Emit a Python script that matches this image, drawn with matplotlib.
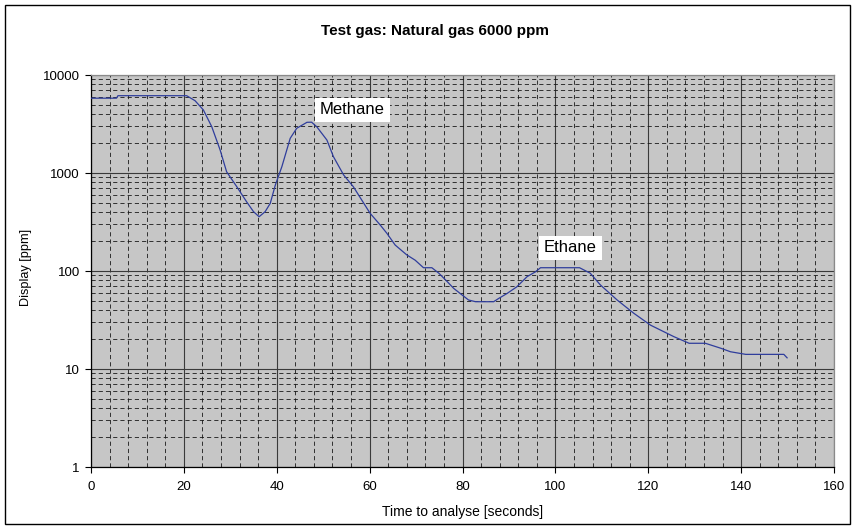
import numpy as np
import matplotlib
matplotlib.use("Agg")
import matplotlib.pyplot as plt
from matplotlib.patches import Rectangle
from matplotlib.ticker import MultipleLocator, LogLocator, NullFormatter

# ---------------- data ----------------
time_s = [0, 5.5, 5.8, 20.6, 22.4, 24.2, 26, 27.8, 29.2, 31.4, 33.5, 35, 36.2,
          37.5, 38.6, 39.7, 41.1, 42.9, 44.3, 46.5, 47.5, 48.6, 50.8, 52.2,
          54.4, 56.5, 60.1, 62.3, 63.7, 65.5, 68, 69.8, 71.6, 73.4, 74.9,
          76.7, 78.1, 79.9, 81.3, 82.8, 86.7, 87.8, 89.6, 91.7, 93.9, 95.7,
          96.8, 105.2, 107.5, 109.7, 113.3, 116.9, 120.5, 125.5, 128.8,
          132.3, 135.6, 137.7, 141, 149.2, 149.9]
display_ppm = [5800, 5800, 6150, 6150, 5470, 4400, 2970, 1720, 1030, 724, 509,
               403, 358, 403, 490, 755, 1160, 2260, 2860, 3290, 3300, 2970,
               2170, 1470, 955, 724, 388, 294, 243, 184, 146, 129, 108, 108,
               95, 78, 66.5, 57, 50.6, 48.6, 48.6, 52.5, 59, 69, 87.5, 98,
               108, 108, 95, 72, 50.6, 37, 28, 21.4, 18.3, 18.3, 16.3, 15,
               14.1, 14.1, 13]

peak_labels = ["Methane", "Ethane"]
peak_x = [56.3, 103.2]
peak_y = [4400, 172]

title = "Test gas: Natural gas 6000 ppm"
x_label = "Time to analyse [seconds]"
y_label = "Display [ppm]"

# ---------------- style ----------------
plt.rcParams['font.family'] = ['Liberation Sans', 'DejaVu Sans']
plt.rcParams['lines.scale_dashes'] = False

fig = plt.figure(figsize=(8.55, 5.29), dpi=100)
ax = fig.add_axes([91 / 855, 1 - 467 / 529, 743 / 855, 392 / 529])
ax.set_facecolor('#c6c6c6')

ax.plot(time_s, display_ppm, color='#2f3d9c', linewidth=0.9, zorder=3)

ax.set_yscale('log')
ax.set_xlim(0, 160)
ax.set_ylim(1, 10000)

ax.xaxis.set_major_locator(MultipleLocator(20))
ax.xaxis.set_minor_locator(MultipleLocator(4))
ax.yaxis.set_major_locator(LogLocator(base=10, numticks=10))
ax.yaxis.set_minor_locator(LogLocator(base=10, subs=np.arange(2, 10), numticks=50))
ax.yaxis.set_minor_formatter(NullFormatter())
ax.set_yticks([1, 10, 100, 1000, 10000])
ax.set_yticklabels(['1', '10', '100', '1000', '10000'])

# grid: solid major, dashed minor
ax.grid(which='major', color='#3a3a3a', linestyle='-', linewidth=0.8, zorder=1)
ax.grid(which='minor', color='#181818', linestyle=(0, (3, 2.2)), linewidth=0.6, zorder=1)
ax.set_axisbelow(True)

ax.tick_params(which='major', direction='out', length=4, width=0.8,
               labelsize=9.5, color='black', pad=4)
ax.tick_params(which='minor', length=0)
ax.tick_params(axis='x', pad=6)

for side in ['left', 'bottom']:
    ax.spines[side].set_color('black')
    ax.spines[side].set_linewidth(0.9)
for side in ['top', 'right']:
    ax.spines[side].set_color('#8a8a8a')
    ax.spines[side].set_linewidth(0.9)

ax.set_xlabel(x_label, fontsize=10)
ax.set_ylabel(y_label, fontsize=9.2)
ax.xaxis.set_label_coords(0.5, -0.097)
ax.yaxis.set_label_coords(-0.08, 0.51)

# peak annotations
for txt, px, py in zip(peak_labels, peak_x, peak_y):
    ax.text(px, py, txt, ha='center', va='center', fontsize=12, zorder=4,
            bbox=dict(facecolor='white', edgecolor='none', pad=3.5))

fig.text(0.509, 0.941, title, ha='center', va='center',
         fontsize=11, fontweight='bold')

# outer chart border
fig.patches.append(Rectangle((5 / 855, 5 / 529), 845 / 855, 519 / 529,
                             transform=fig.transFigure, fill=False,
                             edgecolor='black', linewidth=1.0))

fig.savefig('out.png', dpi=100, facecolor='white')
